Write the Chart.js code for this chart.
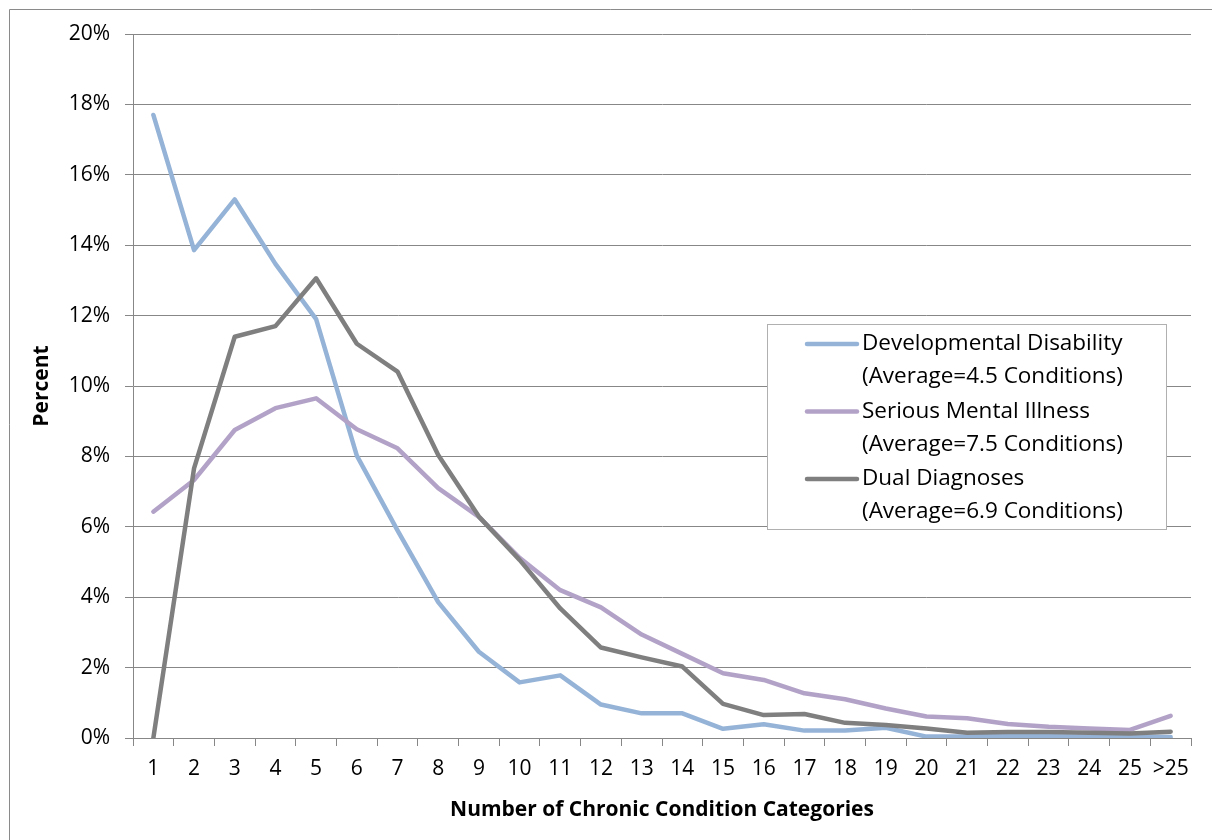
<!DOCTYPE html>
<html>
<head>
<meta charset="utf-8">
<script src="https://cdn.jsdelivr.net/npm/chart.js@4/dist/chart.umd.min.js"></script>
<style>
  html, body { margin: 0; padding: 0; background: #ffffff; }
  #wrap { width: 1212px; height: 840px; position: relative; }
</style>
</head>
<body>
<div id="wrap"><canvas id="chart" width="1212" height="840"></canvas></div>
<script>
// Number of chronic condition categories per person
const categories = ['1','2','3','4','5','6','7','8','9','10','11','12','13','14','15','16','17','18','19','20','21','22','23','24','25','>25'];

// Percent of each population
const developmentalDisability = [17.7, 13.86, 15.3, 13.47, 11.9, 8.02, 5.9, 3.86, 2.45, 1.58, 1.78, 0.95, 0.70, 0.70, 0.26, 0.39, 0.21, 0.21, 0.29, 0.04, 0.04, 0.07, 0.05, 0.04, 0.04, 0.03];
const seriousMentalIllness   = [6.43, 7.33, 8.75, 9.37, 9.65, 8.77, 8.23, 7.1, 6.28, 5.12, 4.2, 3.71, 2.94, 2.39, 1.84, 1.65, 1.27, 1.10, 0.84, 0.61, 0.56, 0.40, 0.32, 0.27, 0.23, 0.63];
const dualDiagnoses          = [0.0, 7.66, 11.4, 11.7, 13.06, 11.2, 10.41, 8.04, 6.29, 5.06, 3.68, 2.57, 2.29, 2.03, 0.97, 0.65, 0.68, 0.43, 0.37, 0.27, 0.15, 0.17, 0.17, 0.15, 0.13, 0.18];

const seriesNames = [
  ['Developmental Disability', '(Average=4.5 Conditions)'],
  ['Serious Mental Illness', '(Average=7.5 Conditions)'],
  ['Dual Diagnoses', '(Average=6.9 Conditions)']
];
const yTicks = [0, 2, 4, 6, 8, 10, 12, 14, 16, 18, 20];

const FONT = '"Open Sans", Carlito, Calibri, Lato, sans-serif';
const GRID = '#878787';
const COLORS = ['#95b3d7', '#b3a2c7', '#7f7f7f'];

// Frame around the whole chart
const framePlugin = {
  id: 'frame',
  beforeDraw(chart) {
    const ctx = chart.ctx;
    ctx.save();
    ctx.fillStyle = '#ffffff';
    ctx.fillRect(0, 0, chart.width, chart.height);
    ctx.strokeStyle = '#8a8a8a';
    ctx.lineWidth = 1;
    ctx.beginPath();
    ctx.moveTo(9.5, chart.height);
    ctx.lineTo(9.5, 9.5);
    ctx.lineTo(chart.width, 9.5);
    ctx.stroke();
    ctx.restore();
  }
};

// Boxed legend with two-line entries, inside the plot area
const boxLegendPlugin = {
  id: 'boxLegend',
  afterDatasetsDraw(chart) {
    const ctx = chart.ctx;
    const box = { x: 767, y: 324, w: 399, h: 205 };
    ctx.save();
    ctx.fillStyle = '#ffffff';
    ctx.fillRect(box.x, box.y, box.w, box.h);
    ctx.strokeStyle = '#b0b0b0';
    ctx.lineWidth = 1;
    ctx.strokeRect(box.x + 0.5, box.y + 0.5, box.w, box.h);
    ctx.font = '22.5px ' + FONT;
    ctx.textBaseline = 'middle';
    ctx.fillStyle = '#000000';
    chart.data.datasets.forEach((ds, i) => {
      const cy = box.y + 20 + i * 67.5;
      ctx.strokeStyle = ds.borderColor;
      ctx.lineWidth = 4.5;
      ctx.lineCap = 'round';
      ctx.beginPath();
      ctx.moveTo(807, cy);
      ctx.lineTo(857, cy);
      ctx.stroke();
      const lines = seriesNames[i];
      lines.forEach((t, j) => ctx.fillText(t, 862, cy + j * 33));
    });
    ctx.restore();
  }
};

new Chart(document.getElementById('chart'), {
  type: 'line',
  data: {
    labels: categories,
    datasets: [
      { label: seriesNames[0].join(' '), data: developmentalDisability, borderColor: COLORS[0], order: 3 },
      { label: seriesNames[1].join(' '), data: seriousMentalIllness, borderColor: COLORS[1], order: 2 },
      { label: seriesNames[2].join(' '), data: dualDiagnoses, borderColor: COLORS[2], order: 1 }
    ]
  },
  options: {
    responsive: false,
    animation: false,
    layout: { padding: { left: 9, top: 34, right: 21, bottom: 0 } },
    elements: {
      point: { radius: 0, hoverRadius: 0 },
      line: { borderWidth: 4.5, tension: 0, fill: false, borderJoinStyle: 'round', borderCapStyle: 'round' }
    },
    plugins: {
      legend: { display: false },
      tooltip: { enabled: false }
    },
    scales: {
      x: {
        type: 'category',
        offset: true,
        grid: { offset: true, drawOnChartArea: false, drawTicks: true, tickLength: 8, color: GRID, lineWidth: 1 },
        border: { display: true, color: GRID, width: 1 },
        ticks: { color: '#000000', font: { family: FONT, size: 21 }, padding: 10, maxRotation: 0, autoSkip: false },
        title: { display: true, text: 'Number of Chronic Condition Categories', color: '#000000', font: { family: FONT, size: 21, weight: 'bold' }, padding: { bottom: 17 } },
        afterFit(scale) { scale.height = 102; }
      },
      y: {
        min: 0,
        max: 20,
        afterBuildTicks(scale) { scale.ticks = yTicks.map(v => ({ value: v })); },
        grid: { drawTicks: true, tickLength: 8, color: GRID, lineWidth: 1 },
        border: { display: true, color: GRID, width: 1 },
        ticks: { color: '#000000', font: { family: FONT, size: 21 }, padding: 15, callback: v => v + '%' },
        title: { display: true, text: 'Percent', color: '#000000', font: { family: FONT, size: 21, weight: 'bold' }, padding: { top: 20 } },
        afterFit(scale) { scale.width = 124; }
      }
    }
  },
  plugins: [framePlugin, boxLegendPlugin]
});
</script>
</body>
</html>
